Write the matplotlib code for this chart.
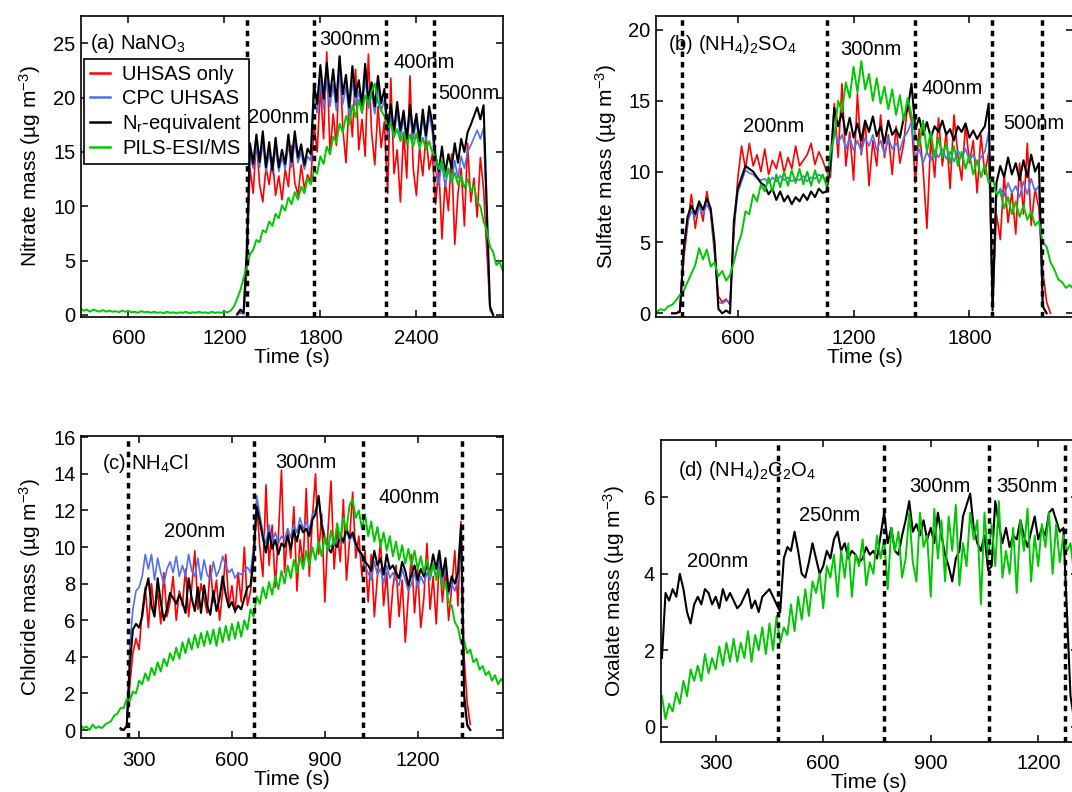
import numpy as np
import matplotlib
matplotlib.use("Agg")
import matplotlib.pyplot as plt

plt.rcParams['font.family'] = ['Liberation Sans', 'DejaVu Sans']
plt.rcParams['mathtext.fontset'] = 'custom'
plt.rcParams['mathtext.rm'] = 'Liberation Sans'
plt.rcParams['mathtext.it'] = 'Liberation Sans:italic'
plt.rcParams['mathtext.bf'] = 'Liberation Sans:bold'
plt.rcParams['font.size'] = 14.5

red_c = "#ff0000"
blue_c = "#5070f0"
green_c = "#00c800"

# ---------------- (a) NaNO3 : 20 s steps ----------------
a_green_t0 = 300
a_green = [0.6, 0.4, 0.5, 0.3, 0.5, 0.4, 0.3, 0.45, 0.3, 0.4,
           0.3, 0.35, 0.25, 0.4, 0.3, 0.35, 0.25, 0.3, 0.2, 0.35,
           0.25, 0.3, 0.2, 0.3, 0.2, 0.25, 0.15, 0.3, 0.2, 0.25,
           0.15, 0.25, 0.2, 0.3, 0.15, 0.25, 0.2, 0.3, 0.2, 0.25,
           0.15, 0.3, 0.2, 0.25, 0.2, 0.3, 0.25, 0.4, 0.8, 1.5,
           2.3, 3.4, 4.4, 5.6, 6.0, 6.9, 6.7, 7.8, 7.6, 8.6,
           8.2, 9.3, 8.9, 10.1, 9.6, 10.8, 10.2, 11.3, 10.6, 11.8,
           11.2, 12.6, 12.0, 13.3, 13.0, 14.6, 13.9, 15.5, 14.8, 16.4,
           15.9, 17.6, 16.8, 18.3, 17.5, 19.3, 18.2, 19.8, 18.6, 20.2,
           19.4, 20.6, 21.3, 19.6, 18.8, 18.3, 17.2, 17.6, 16.4, 17.1,
           16.0, 16.8, 15.7, 16.6, 15.5, 16.7, 15.4, 16.3, 15.2, 16.0,
           14.9, 14.6, 13.4, 14.2, 12.7, 13.5, 12.3, 13.1, 12.0, 12.8,
           11.7, 12.5, 11.4, 11.9, 10.4, 10.0, 8.6, 7.8, 6.3, 5.8,
           4.6, 4.9, 4.1]
a_t0 = 1280
a_black = [0.1, 0.5, 0.2, 6.0, 15.8, 13.9, 16.6, 14.1, 16.9, 13.6,
           15.9, 13.3, 16.3, 13.6, 15.2, 13.9, 16.6, 14.1, 16.9, 14.5,
           15.7, 13.8, 15.3, 14.8, 21.2, 19.4, 23.0, 19.9, 23.2, 20.1,
           22.6, 19.6, 23.8, 20.3, 22.1, 19.1, 22.9, 20.1, 21.6, 19.3,
           23.1, 19.8, 21.4, 19.2, 22.0, 19.5, 20.8, 17.0, 19.4, 16.9,
           19.6, 17.0, 18.8, 16.2, 19.3, 16.8, 18.5, 16.0, 18.9, 16.5,
           19.2, 17.6, 14.6, 13.2, 15.5, 13.0, 14.8, 13.5, 15.8, 14.0,
           16.2, 15.0, 16.8, 17.5, 18.3, 19.1, 18.0, 19.3, 10.0, 0.8,
           0.0]
a_blue = [0.0, 0.3, 0.1, 5.0, 14.8, 13.5, 15.6, 13.6, 15.8, 13.2,
          15.0, 13.0, 15.4, 13.2, 14.5, 13.4, 15.7, 13.6, 16.0, 14.0,
          15.0, 13.4, 14.6, 14.2, 19.8, 18.6, 21.6, 19.0, 21.8, 19.2,
          21.2, 18.8, 22.3, 19.4, 21.0, 18.4, 21.6, 19.3, 20.6, 18.6,
          21.8, 19.0, 20.4, 18.5, 21.0, 18.8, 19.8, 16.2, 18.4, 16.3,
          18.8, 16.4, 18.1, 15.7, 18.5, 16.2, 17.8, 15.5, 18.2, 16.0,
          18.4, 16.8, 13.2, 12.0, 14.0, 11.8, 13.4, 12.2, 14.2, 12.6,
          14.6, 13.5, 15.0, 15.6, 16.3, 17.0, 16.2, 17.2, 8.5, 0.4,
          0.0]
a_red = [0.0, 0.2, 0.1, 4.0, 13.5, 11.2, 16.2, 12.0, 10.4, 13.6,
         12.0, 14.5, 11.0, 12.8, 10.6, 13.4, 11.8, 15.6, 12.2, 11.0,
         13.8, 11.6, 12.9, 12.2, 17.5, 15.0, 21.0, 16.2, 24.2, 14.8,
         18.5, 15.6, 23.8, 17.2, 14.0, 19.8, 16.4, 22.6, 15.2, 18.0,
         14.6, 24.0, 16.8, 13.8, 19.2, 15.4, 17.8, 11.2, 21.8, 13.0,
         15.2, 10.4, 16.8, 12.6, 22.0, 13.5, 11.0, 15.4, 12.8, 16.6,
         13.4, 14.8, 10.2, 13.6, 7.0, 12.4, 9.6, 14.8, 6.5, 11.2,
         13.5, 8.2, 15.8, 10.4, 12.6, 9.0, 14.5, 11.6, 6.0, 0.6,
         0.0]
a_dash = [1341, 1757, 2212, 2513]

# ---------------- (b) (NH4)2SO4 : 20 s steps ----------------
b_green_t0 = 180
b_green = [0.1, 0.3, 0.2, 0.5, 0.6, 0.9, 1.3, 1.6, 2.2, 2.8,
           3.4, 4.6, 3.8, 4.5, 3.3, 3.6, 2.6, 3.0, 2.3, 2.7,
           3.6, 4.8, 5.6, 7.2, 7.0, 8.4, 7.9, 9.1, 8.6, 9.6,
           8.6, 9.8, 8.9, 10.0, 9.0, 10.1, 9.2, 10.2, 9.1, 10.0,
           9.0, 10.1, 9.2, 9.8, 9.0, 11.3, 12.5, 15.0, 14.2, 16.3,
           15.2, 17.4, 15.6, 17.8, 15.8, 16.9, 15.0, 16.6, 14.8, 16.0,
           14.4, 15.8, 14.0, 15.4, 13.6, 15.2, 14.0, 12.6, 11.8, 13.6,
           11.4, 12.8, 11.0, 12.4, 11.0, 12.0, 10.6, 11.8, 10.4, 11.4,
           10.2, 11.2, 9.8, 10.8, 9.6, 10.5, 9.2, 9.6, 8.4, 8.6,
           7.4, 8.2, 7.0, 7.9, 6.8, 7.6, 6.6, 7.2, 6.2, 6.5,
           5.0, 4.7, 3.6, 3.1, 2.4, 2.2, 1.8, 2.0, 1.7]
b_t0 = 260
b_black = [0.0, 0.0, 0.1, 4.5, 6.8, 7.6, 7.0, 7.9, 7.3, 8.1,
           7.4, 5.0, 0.3, 0.0, 0.2, 0.0, 6.5, 8.8, 9.6, 10.4,
           10.2, 10.0, 9.6, 9.2, 9.0, 8.4, 8.8, 8.0, 8.6, 7.9,
           8.3, 7.7, 8.2, 7.9, 8.4, 8.0, 8.6, 8.2, 8.8, 8.5,
           8.6, 10.5, 14.5, 13.2, 14.2, 12.6, 13.8, 12.4, 13.4, 12.2,
           13.6, 12.8, 13.9, 12.5, 13.2, 12.0, 13.6, 12.6, 13.0, 12.4,
           13.8, 14.4, 16.2, 13.0, 13.8, 12.6, 13.5, 12.4, 13.2, 12.8,
           13.6, 12.6, 13.0, 12.2, 13.2, 12.8, 13.4, 12.4, 12.9, 12.3,
           12.8, 13.2, 14.8, 0.2, 9.2, 10.4, 9.6, 11.0, 9.8, 10.6,
           9.4, 10.8, 9.6, 11.2, 10.0, 10.6, 0.5, 0.0]
b_blue = [0.0, 0.0, 0.1, 4.2, 6.4, 7.2, 6.8, 7.5, 7.0, 7.7,
          7.1, 4.6, 0.8, 0.7, 0.9, 0.8, 6.0, 8.5, 9.3, 10.1,
          9.9, 9.8, 9.5, 9.4, 9.5, 9.2, 9.6, 9.3, 9.7, 9.4,
          9.6, 9.3, 9.5, 9.4, 9.7, 9.3, 9.6, 9.5, 9.8, 9.6,
          9.4, 10.0, 13.0, 12.0, 12.6, 11.6, 12.4, 11.5, 12.2, 11.4,
          12.4, 11.8, 12.6, 11.5, 12.2, 11.2, 12.4, 11.6, 12.0, 11.5,
          12.4, 12.8, 13.5, 11.0, 11.6, 10.6, 11.4, 10.8, 11.5, 11.0,
          11.6, 10.9, 11.4, 10.7, 11.5, 11.0, 11.6, 10.8, 11.2, 10.6,
          11.0, 11.4, 12.8, 0.4, 8.2, 8.8, 8.3, 9.2, 8.5, 9.0,
          8.2, 9.3, 8.4, 9.5, 8.6, 9.0, 0.5, 0.0]
b_red = [0.0, 0.0, 0.2, 3.8, 6.2, 8.4, 6.0, 7.8, 6.5, 8.6,
         7.0, 4.2, 1.2, 0.8, 1.0, 0.6, 5.6, 9.5, 11.8, 10.2,
         12.0, 10.4, 11.2, 10.0, 11.6, 9.8, 10.8, 10.2, 11.4, 9.9,
         11.0, 10.2, 11.8, 10.4, 10.8, 11.2, 12.0, 10.5, 11.4, 10.8,
         10.0, 9.6, 14.8, 11.0, 16.2, 10.4, 12.8, 9.4, 15.5, 11.2,
         13.6, 9.0, 12.2, 10.4, 14.0, 11.0, 12.6, 9.8, 13.2, 10.6,
         12.0, 14.8, 13.5, 9.2, 13.0, 10.2, 6.0, 12.4, 9.6, 13.8,
         10.4, 12.8, 8.8, 14.0, 11.2, 9.4, 13.4, 10.6, 12.2, 8.5,
         12.6, 9.8, 11.4, 0.6, 7.0, 5.2, 9.8, 6.4, 8.6, 5.6,
         10.6, 7.0, 12.0, 6.2, 8.8, 7.4, 3.0, 0.8, 0.0]
b_dash = [310, 1061, 1518, 1916, 2177]

# ---------------- (c) NH4Cl : 10 s steps ----------------
c_green_t0 = 110
c_green = [0.3, 0.1, 0.2, 0.0, 0.3, 0.1, 0.2, 0.1, 0.3, 0.4,
           0.5, 0.8, 0.9, 1.2, 1.2, 1.7, 1.6, 2.1, 2.0, 2.7,
           2.5, 3.1, 2.7, 3.4, 3.0, 3.7, 3.2, 3.9, 3.5, 4.2,
           3.8, 4.5, 3.9, 4.8, 4.2, 5.0, 4.4, 5.2, 4.5, 5.3,
           4.6, 5.4, 4.7, 5.5, 4.6, 5.6, 4.8, 5.7, 4.9, 5.8,
           5.0, 5.9, 5.1, 6.0, 5.5, 6.6, 6.2, 7.3, 6.9, 7.8,
           7.2, 8.1, 7.4, 8.4, 7.7, 8.7, 8.0, 9.0, 8.3, 9.3,
           8.6, 9.5, 8.8, 9.8, 9.0, 10.0, 9.3, 10.3, 9.5, 10.6,
           9.8, 10.9, 10.1, 11.3, 10.4, 11.6, 10.9, 12.3, 12.6, 11.6,
           12.0, 11.0, 11.8, 10.6, 11.4, 10.3, 11.1, 10.0, 10.8, 9.8,
           10.6, 9.5, 10.3, 9.3, 10.1, 9.1, 9.9, 9.0, 9.8, 8.8,
           9.5, 8.6, 9.3, 8.4, 9.1, 8.2, 8.8, 7.8, 8.0, 7.0,
           6.8, 5.9, 5.6, 4.8, 4.9, 4.2, 4.4, 3.7, 3.9, 3.3,
           3.5, 3.0, 3.2, 2.7, 3.0, 2.5, 2.8, 2.5]
c_t0 = 240
c_black = [0.1, 0.0, 0.2, 3.5, 5.5, 5.8, 5.6, 6.2, 7.6, 8.3,
           6.8, 6.2, 8.3, 7.0, 6.0, 6.6, 7.5, 7.2, 6.9, 7.4,
           7.0, 6.4, 8.3, 7.2, 6.5, 7.8, 6.4, 7.9, 6.8, 6.3,
           7.6, 6.5, 7.2, 8.4, 7.4, 6.7, 7.0, 6.5, 6.8, 6.6,
           7.2, 7.8, 7.9, 9.5, 12.2, 11.4, 10.5, 9.7, 10.8, 9.9,
           10.4, 9.6, 10.2, 10.0, 10.6, 9.9, 10.9, 10.3, 11.2, 10.8,
           11.0, 10.6, 11.5, 11.8, 12.8, 11.2, 10.4, 10.0, 9.7, 10.2,
           10.0, 10.6, 10.3, 11.0, 10.5, 10.8, 10.2, 9.8, 9.6, 9.2,
           9.0, 8.7, 9.8, 9.0, 9.4, 8.5, 9.6, 8.8, 9.0, 8.6,
           8.3, 9.2, 8.7, 7.9, 8.5, 9.0, 8.2, 8.8, 8.4, 9.1,
           8.6, 9.6, 8.8, 9.8, 8.4, 9.4, 7.6, 8.4, 8.0, 8.6,
           11.2, 2.0, 0.3, 0.0]
c_blue = [0.1, 0.0, 0.3, 4.5, 6.6, 7.6, 7.8, 8.4, 9.6, 8.8,
          9.6, 8.2, 9.4, 8.6, 8.0, 8.8, 9.2, 8.6, 9.5, 8.4,
          9.0, 8.4, 9.6, 8.7, 8.4, 9.4, 8.2, 9.3, 8.5, 8.2,
          9.2, 8.4, 8.8, 9.5, 9.0, 8.6, 8.8, 8.3, 8.6, 8.5,
          8.7, 8.9, 8.6, 10.0, 12.8, 11.8, 10.8, 10.2, 11.2, 10.3,
          10.8, 10.2, 10.6, 10.4, 11.0, 10.5, 11.2, 10.8, 11.6, 11.0,
          11.4, 10.9, 11.8, 12.0, 12.6, 11.4, 10.6, 10.2, 10.0, 10.4,
          10.3, 10.8, 10.2, 10.9, 10.4, 10.6, 10.0, 9.8, 9.4, 9.0,
          8.6, 8.2, 9.2, 8.5, 8.8, 8.0, 9.0, 8.3, 8.6, 8.2,
          7.9, 8.8, 8.2, 7.6, 8.0, 8.6, 7.8, 8.4, 8.0, 8.6,
          8.2, 9.0, 8.4, 9.3, 8.0, 9.0, 7.4, 8.0, 7.6, 8.2,
          10.6, 1.6, 0.2, 0.0]
c_red = [0.0, 0.0, 0.2, 2.5, 4.2, 5.0, 4.4, 6.5, 7.8, 5.6,
         8.0, 6.4, 7.6, 5.8, 8.6, 6.2, 7.0, 8.4, 6.0, 7.6,
         6.8, 8.8, 6.2, 7.8, 9.8, 6.6, 8.0, 7.2, 6.4, 9.0,
         7.0, 8.2, 6.0, 7.6, 9.6, 6.8, 7.9, 6.4, 8.6, 7.0,
         10.0, 6.8, 7.6, 9.2, 12.4, 10.0, 8.4, 13.4, 9.0, 11.2,
         7.8, 10.6, 14.2, 8.6, 11.0, 9.4, 12.2, 7.6, 10.4, 9.0,
         13.2, 8.4, 11.6, 14.0, 9.6, 11.8, 7.0, 10.8, 13.6, 8.8,
         11.0, 9.2, 12.6, 8.2, 10.4, 13.0, 9.4, 10.6, 8.4, 9.8,
         7.0, 9.6, 6.2, 8.4, 10.4, 6.8, 8.6, 5.6, 7.8, 9.0,
         6.2, 8.2, 4.8, 7.4, 9.6, 6.4, 8.8, 5.6, 7.2, 10.2,
         6.6, 8.4, 5.8, 9.4, 7.0, 8.8, 6.0, 7.8, 9.8, 6.8,
         11.4, 4.0, 1.5, 0.3]
c_dash = [265, 672, 1022, 1343]

# ---------------- (d) (NH4)2C2O4 : 10 s steps ----------------
d_black_t0 = 150
d_black = [1.8, 3.5, 3.3, 3.6, 3.4, 4.0, 3.6, 3.0, 2.7, 3.2,
           3.4, 3.2, 3.6, 3.5, 3.2, 3.4, 3.1, 3.6, 3.3, 3.5,
           3.3, 3.1, 3.2, 3.4, 3.6, 3.1, 3.3, 3.0, 3.4, 3.5,
           3.6, 3.4, 3.2, 3.0, 4.4, 4.7, 4.6, 5.1, 4.6, 4.0,
           3.9, 4.3, 4.8, 4.4, 4.0, 4.2, 4.6, 4.4, 4.9, 5.1,
           4.6, 4.8, 4.4, 4.6, 4.5, 4.3, 4.4, 4.7, 4.5, 4.6,
           4.4, 5.0, 5.6, 4.8, 5.2, 4.6, 4.5, 5.0, 5.4, 5.9,
           5.1, 5.3, 5.0, 5.4, 4.9, 5.2, 4.8, 5.6, 5.0, 4.5,
           4.2, 3.8, 4.4, 4.6, 5.5, 5.8, 6.1, 5.2, 4.8, 4.6,
           5.0, 4.1, 4.2, 5.9, 5.3, 4.8, 5.2, 4.7, 5.0, 4.9,
           5.4, 5.0, 4.7, 5.1, 5.5, 4.9, 5.2, 5.0, 5.6, 5.7,
           5.4, 5.1, 5.2, 3.0, 0.8, 0.2]
d_green_t0 = 150
d_green = [0.8, 0.2, 0.6, 0.4, 0.9, 0.6, 1.2, 0.8, 1.5, 1.2,
           1.6, 1.2, 1.9, 1.4, 1.8, 1.5, 2.1, 1.6, 2.2, 1.7,
           2.3, 1.7, 2.2, 1.8, 2.5, 1.7, 2.4, 2.0, 2.6, 1.9,
           2.7, 2.0, 2.9, 2.2, 2.6, 2.4, 3.2, 2.5, 3.4, 2.8,
           3.6, 2.9, 3.8, 3.5, 4.0, 3.1, 4.2, 3.9, 4.5, 3.4,
           4.6, 3.9, 4.8, 3.4, 4.5, 4.2, 4.9, 3.7, 4.3, 4.0,
           5.0, 4.4, 4.9, 3.6, 5.2, 4.6, 5.1, 3.9, 4.4, 5.6,
           4.3, 3.8, 5.6, 4.7, 5.0, 3.4, 5.7, 4.4, 5.4, 3.8,
           5.5, 4.6, 5.8, 3.7, 4.8, 4.2, 5.6, 4.9, 5.4, 3.2,
           5.6, 4.4, 5.3, 4.2, 5.9, 3.9, 4.6, 4.0, 5.2, 3.5,
           5.4, 4.6, 5.7, 3.8, 5.0, 4.2, 5.3, 4.7, 5.6, 4.0,
           5.3, 4.3, 5.0, 4.6, 4.8, 4.0, 4.7, 4.2, 4.6]
d_dash = [473, 770, 1063, 1276]


def trace(ax, t0, step, vals, **kw):
    t = t0 + step * np.arange(len(vals))
    ax.plot(t, vals, **kw)


def dashes(ax, xs):
    for x in xs:
        ax.axvline(x, color="k", lw=2.5, ls=(0, (1.6, 1.4)), zorder=5)


def style(ax, xlim, ylim, xticks, yticks, ylabel, lab_x):
    ax.set_xlim(xlim)
    ax.set_ylim(ylim)
    ax.set_xticks(xticks)
    ax.set_yticks(yticks)
    ax.tick_params(direction="in", top=True, right=True, length=5, width=1.1, labelsize=14.5)
    ax.tick_params(axis="x", pad=9)
    ax.tick_params(axis="y", pad=4)
    for s in ax.spines.values():
        s.set_linewidth(1.2)
    ax.set_xlabel("Time (s)", fontsize=15, labelpad=0)
    ax.set_ylabel(ylabel, fontsize=15)
    ax.yaxis.set_label_coords(lab_x, 0.5)


fig = plt.figure(figsize=(10.72, 7.92), dpi=100)
ax_a = fig.add_axes([0.0756, 0.6001, 0.3937, 0.380])
ax_b = fig.add_axes([0.6120, 0.6001, 0.3890, 0.380])
ax_c = fig.add_axes([0.0756, 0.0678, 0.3937, 0.3817])
ax_d = fig.add_axes([0.6163, 0.0635, 0.3890, 0.381])

lw_r, lw_b, lw_k, lw_g = 1.2, 1.2, 1.5, 1.4

# (a)
trace(ax_a, a_t0, 20, a_red, color=red_c, lw=lw_r, label="UHSAS only")
trace(ax_a, a_t0, 20, a_blue, color=blue_c, lw=lw_b, label="CPC UHSAS")
trace(ax_a, a_t0, 20, a_black, color="k", lw=lw_k, label=r"N$_\mathrm{r}$-equivalent")
trace(ax_a, a_green_t0, 20, a_green, color=green_c, lw=lw_g, label="PILS-ESI/MS")
dashes(ax_a, a_dash)
style(ax_a, (304, 2942), (-0.16, 27.53), [600, 1200, 1800, 2400], [0, 5, 10, 15, 20, 25],
      "Nitrate mass (µg m$^{-3}$)", -0.09)
ax_a.text(0.021, 0.909, "(a) NaNO$_3$", transform=ax_a.transAxes, va="center")
for s, x, y in [("200nm", 1349, 18.2), ("300nm", 1793, 25.3), ("400nm", 2254, 23.2), ("500nm", 2538, 20.4)]:
    ax_a.text(x, y, s, va="center", zorder=6)
leg = ax_a.legend(loc="upper left", bbox_to_anchor=(0.007, 0.856), borderaxespad=0,
                  fancybox=False, edgecolor="k", framealpha=1, fontsize=14.5,
                  handlelength=1.0, handletextpad=0.6, labelspacing=0.22, borderpad=0.3)
leg.get_frame().set_linewidth(1.2)
for ln in leg.get_lines():
    ln.set_linewidth(1.8)

# (b)
trace(ax_b, b_t0, 20, b_red, color=red_c, lw=lw_r)
trace(ax_b, b_t0, 20, b_blue, color=blue_c, lw=lw_b)
trace(ax_b, b_t0, 20, b_black, color="k", lw=lw_k)
trace(ax_b, b_green_t0, 20, b_green, color=green_c, lw=lw_g)
dashes(ax_b, b_dash)
style(ax_b, (177, 2337), (-0.24, 21.0), [600, 1200, 1800], [0, 5, 10, 15, 20],
      "Sulfate mass (µg m$^{-3}$)", -0.089)
ax_b.text(0.029, 0.903, "(b) (NH$_4$)$_2$SO$_4$", transform=ax_b.transAxes, va="center")
for s, x, y in [("200nm", 627, 13.2), ("300nm", 1130, 18.6), ("400nm", 1553, 15.9), ("500nm", 1975, 13.4)]:
    ax_b.text(x, y, s, va="center", zorder=6)

# (c)
trace(ax_c, c_t0, 10, c_red, color=red_c, lw=lw_r)
trace(ax_c, c_t0, 10, c_blue, color=blue_c, lw=lw_b)
trace(ax_c, c_t0, 10, c_black, color="k", lw=lw_k)
trace(ax_c, c_green_t0, 10, c_green, color=green_c, lw=lw_g)
dashes(ax_c, c_dash)
style(ax_c, (112.5, 1476), (-0.45, 16.07), [300, 600, 900, 1200], [0, 2, 4, 6, 8, 10, 12, 14, 16],
      "Chloride mass (µg m$^{-3}$)", -0.09)
ax_c.text(0.05, 0.91, "(c) NH$_4$Cl", transform=ax_c.transAxes, va="center")
for s, x, y in [("200nm", 379, 10.84), ("300nm", 740, 14.6), ("400nm", 1075, 12.7)]:
    ax_c.text(x, y, s, va="center", zorder=6)

# (d)
trace(ax_d, d_black_t0, 10, d_black, color="k", lw=lw_k)
trace(ax_d, d_green_t0, 10, d_green, color=green_c, lw=lw_g)
dashes(ax_d, d_dash)
style(ax_d, (146.5, 1310), (-0.39, 7.5), [300, 600, 900, 1200], [0, 2, 4, 6],
      "Oxalate mass (µg m$^{-3}$)", -0.081)
ax_d.text(0.042, 0.90, "(d) (NH$_4$)$_2$C$_2$O$_4$", transform=ax_d.transAxes, va="center")
for s, x, y in [("200nm", 220, 4.32), ("250nm", 533, 5.53), ("300nm", 839, 6.29), ("350nm", 1083, 6.29)]:
    ax_d.text(x, y, s, va="center", zorder=6)

fig.savefig("out.png", dpi=100)
